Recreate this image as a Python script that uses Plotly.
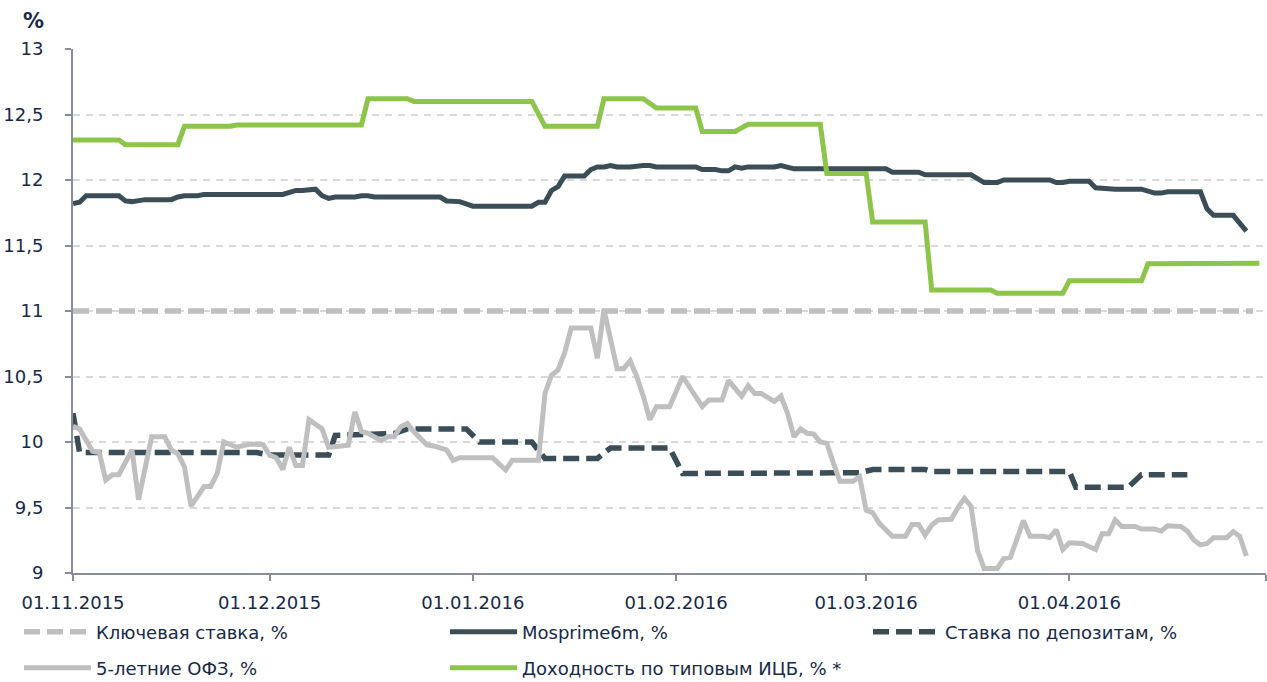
import plotly.graph_objects as go

# ---------------- data ----------------
key_dates = ["2015-11-01", "2016-04-29"]
key_vals = [11.0, 11.0]

mos_dates = ["2015-11-01", "2015-11-02", "2015-11-03", "2015-11-08", "2015-11-09", "2015-11-10",
             "2015-11-12", "2015-11-16", "2015-11-17", "2015-11-18", "2015-11-20", "2015-11-21",
             "2015-12-03", "2015-12-04", "2015-12-05", "2015-12-06", "2015-12-08", "2015-12-09",
             "2015-12-10", "2015-12-11", "2015-12-14", "2015-12-15", "2015-12-16", "2015-12-17",
             "2015-12-27", "2015-12-28", "2015-12-30", "2016-01-01", "2016-01-10", "2016-01-11",
             "2016-01-12", "2016-01-13", "2016-01-14", "2016-01-15", "2016-01-18", "2016-01-19",
             "2016-01-20", "2016-01-21", "2016-01-22", "2016-01-23", "2016-01-25", "2016-01-27",
             "2016-01-28", "2016-01-29", "2016-02-04", "2016-02-05", "2016-02-07", "2016-02-08",
             "2016-02-09", "2016-02-10", "2016-02-11", "2016-02-12", "2016-02-16", "2016-02-17",
             "2016-02-18", "2016-02-19", "2016-03-04", "2016-03-05", "2016-03-09", "2016-03-10",
             "2016-03-17", "2016-03-19", "2016-03-21", "2016-03-22", "2016-03-29", "2016-03-30",
             "2016-03-31", "2016-04-01", "2016-04-04", "2016-04-05", "2016-04-08", "2016-04-12",
             "2016-04-14", "2016-04-15", "2016-04-16", "2016-04-21", "2016-04-22", "2016-04-23",
             "2016-04-26", "2016-04-28"]
mos_vals = [11.82, 11.83, 11.88, 11.88, 11.84, 11.835,
            11.85, 11.85, 11.87, 11.88, 11.88, 11.89,
            11.89, 11.91, 11.92, 11.92, 11.93, 11.88,
            11.86, 11.87, 11.87, 11.88, 11.88, 11.87,
            11.87, 11.84, 11.835, 11.80, 11.80, 11.83,
            11.83, 11.92, 11.95, 12.03, 12.03, 12.08,
            12.10, 12.10, 12.11, 12.10, 12.10, 12.11,
            12.11, 12.10, 12.10, 12.08, 12.08, 12.07,
            12.07, 12.10, 12.09, 12.10, 12.10, 12.11,
            12.10, 12.085, 12.085, 12.06, 12.06, 12.04,
            12.04, 11.98, 11.98, 12.00, 12.00, 11.98,
            11.98, 11.99, 11.99, 11.94, 11.93, 11.93,
            11.90, 11.90, 11.91, 11.91, 11.78, 11.73,
            11.73, 11.61]

dep_dates = ["2015-11-01", "2015-11-02", "2015-11-29", "2015-12-01", "2015-12-10", "2015-12-11",
             "2015-12-20", "2015-12-22", "2015-12-31", "2016-01-02", "2016-01-10", "2016-01-12",
             "2016-01-20", "2016-01-22", "2016-01-31", "2016-02-02", "2016-02-29", "2016-03-02",
             "2016-03-10", "2016-03-11", "2016-04-01", "2016-04-02", "2016-04-10", "2016-04-12",
             "2016-04-19"]
dep_vals = [10.22, 9.92, 9.92, 9.90, 9.90, 10.05,
            10.065, 10.10, 10.10, 10.00, 10.00, 9.875,
            9.875, 9.955, 9.955, 9.76, 9.765, 9.79,
            9.79, 9.775, 9.775, 9.655, 9.655, 9.75,
            9.75]

ofz_dates = ["2015-11-01", "2015-11-02", "2015-11-04", "2015-11-05", "2015-11-06", "2015-11-07",
             "2015-11-08", "2015-11-10", "2015-11-11", "2015-11-13", "2015-11-15", "2015-11-16",
             "2015-11-17", "2015-11-18", "2015-11-19", "2015-11-21", "2015-11-22", "2015-11-23",
             "2015-11-24", "2015-11-26", "2015-11-28", "2015-11-30", "2015-12-01", "2015-12-02",
             "2015-12-03", "2015-12-04", "2015-12-05", "2015-12-06", "2015-12-07", "2015-12-09",
             "2015-12-10", "2015-12-13", "2015-12-14", "2015-12-15", "2015-12-16", "2015-12-18",
             "2015-12-19", "2015-12-20", "2015-12-21", "2015-12-22", "2015-12-23", "2015-12-25",
             "2015-12-26", "2015-12-28", "2015-12-29", "2015-12-30", "2016-01-04", "2016-01-06",
             "2016-01-07", "2016-01-11", "2016-01-12", "2016-01-13", "2016-01-14", "2016-01-15",
             "2016-01-16", "2016-01-19", "2016-01-20", "2016-01-21", "2016-01-23", "2016-01-24",
             "2016-01-25", "2016-01-26", "2016-01-27", "2016-01-28", "2016-01-29", "2016-01-31",
             "2016-02-02", "2016-02-03", "2016-02-05", "2016-02-06", "2016-02-08", "2016-02-09",
             "2016-02-11", "2016-02-12", "2016-02-13", "2016-02-14", "2016-02-16", "2016-02-17",
             "2016-02-18", "2016-02-19", "2016-02-20", "2016-02-21", "2016-02-22", "2016-02-23",
             "2016-02-24", "2016-02-25", "2016-02-26", "2016-02-28", "2016-02-29", "2016-03-01",
             "2016-03-02", "2016-03-03", "2016-03-04", "2016-03-05", "2016-03-07", "2016-03-08",
             "2016-03-09", "2016-03-10", "2016-03-11", "2016-03-12", "2016-03-14", "2016-03-15",
             "2016-03-16", "2016-03-17", "2016-03-18", "2016-03-19", "2016-03-21", "2016-03-22",
             "2016-03-23", "2016-03-24", "2016-03-25", "2016-03-26", "2016-03-28", "2016-03-29",
             "2016-03-30", "2016-03-31", "2016-04-01", "2016-04-03", "2016-04-05", "2016-04-06",
             "2016-04-07", "2016-04-08", "2016-04-09", "2016-04-11", "2016-04-12", "2016-04-14",
             "2016-04-15", "2016-04-16", "2016-04-18", "2016-04-19", "2016-04-20", "2016-04-21",
             "2016-04-22", "2016-04-23", "2016-04-25", "2016-04-26", "2016-04-27", "2016-04-28"]
ofz_vals = [10.12, 10.10, 9.93, 9.92, 9.71, 9.75,
            9.75, 9.94, 9.56, 10.04, 10.04, 9.94,
            9.91, 9.81, 9.51, 9.66, 9.66, 9.76,
            10.00, 9.96, 9.985, 9.98, 9.90, 9.88,
            9.79, 9.96, 9.82, 9.82, 10.17, 10.10,
            9.96, 9.975, 10.23, 10.08, 10.066, 10.01,
            10.04, 10.04, 10.117, 10.14, 10.08, 9.977,
            9.97, 9.94, 9.86, 9.88, 9.88, 9.786,
            9.86, 9.86, 10.37, 10.51, 10.55, 10.68,
            10.87, 10.87, 10.64, 11.01, 10.56, 10.56,
            10.62, 10.50, 10.35, 10.17, 10.27, 10.27,
            10.50, 10.42, 10.27, 10.32, 10.32, 10.47,
            10.35, 10.43, 10.37, 10.37, 10.31, 10.35,
            10.22, 10.04, 10.10, 10.066, 10.06, 10.00,
            9.99, 9.84, 9.70, 9.70, 9.735, 9.48,
            9.46, 9.38, 9.33, 9.28, 9.28, 9.37,
            9.37, 9.29, 9.366, 9.405, 9.41, 9.50,
            9.57, 9.51, 9.17, 9.035, 9.035, 9.11,
            9.12, 9.25, 9.40, 9.28, 9.28, 9.27,
            9.33, 9.18, 9.23, 9.225, 9.18, 9.30,
            9.30, 9.405, 9.355, 9.355, 9.335, 9.335,
            9.32, 9.36, 9.355, 9.32, 9.25, 9.215,
            9.225, 9.27, 9.27, 9.315, 9.28, 9.13]

icb_dates = ["2015-11-01", "2015-11-08", "2015-11-09", "2015-11-17", "2015-11-18", "2015-11-25",
             "2015-11-26", "2015-12-15", "2015-12-16", "2015-12-22", "2015-12-23", "2016-01-10",
             "2016-01-12", "2016-01-20", "2016-01-21", "2016-01-27", "2016-01-29", "2016-02-04",
             "2016-02-05", "2016-02-10", "2016-02-12", "2016-02-23", "2016-02-24", "2016-03-01",
             "2016-03-02", "2016-03-10", "2016-03-11", "2016-03-20", "2016-03-21", "2016-03-31",
             "2016-04-01", "2016-04-12", "2016-04-13", "2016-04-20", "2016-04-21", "2016-04-30"]
icb_vals = [12.305, 12.305, 12.27, 12.27, 12.41, 12.41,
            12.42, 12.42, 12.62, 12.62, 12.60, 12.60,
            12.41, 12.41, 12.62, 12.62, 12.55, 12.55,
            12.37, 12.37, 12.425, 12.425, 12.05, 12.05,
            11.68, 11.68, 11.16, 11.16, 11.135, 11.135,
            11.23, 11.23, 11.36, 11.36, 11.365, 11.365]

x_tick_vals = ["2015-11-01", "2015-12-01", "2016-01-01", "2016-02-01", "2016-03-01", "2016-04-01", "2016-05-01"]
x_tick_text = ["01.11.2015", "01.12.2015", "01.01.2016", "01.02.2016", "01.03.2016", "01.04.2016", ""]

names = ["Ключевая ставка, %", "Mosprime6m, %", "Ставка по депозитам, %",
         "5-летние ОФЗ, %", "Доходность по типовым ИЦБ, % *"]

# ---------------- styles ----------------
DARK = "#3b4e57"
GRAY = "#bfbfbf"
GREEN = "#8dc54b"
TEXT = "#17294a"
AXIS = "#8a8d99"
FONT = "DejaVu Sans"
W, H = 1267, 682

fig = go.Figure()
fig.add_trace(go.Scatter(x=key_dates, y=key_vals, mode="lines", name=names[0], legend="legend",
                         line=dict(color=GRAY, width=5.5, dash="16px,7px")))
fig.add_trace(go.Scatter(x=mos_dates, y=mos_vals, mode="lines", name=names[1], legend="legend2",
                         line=dict(color=DARK, width=5)))
fig.add_trace(go.Scatter(x=dep_dates, y=dep_vals, mode="lines", name=names[2], legend="legend3",
                         line=dict(color=DARK, width=5.5, dash="16px,7px")))
fig.add_trace(go.Scatter(x=ofz_dates, y=ofz_vals, mode="lines", name=names[3], legend="legend4",
                         line=dict(color=GRAY, width=5)))
fig.add_trace(go.Scatter(x=icb_dates, y=icb_vals, mode="lines", name=names[4], legend="legend5",
                         line=dict(color=GREEN, width=5)))


def leg(px, py):
    return dict(orientation="h", xref="container", yref="container",
                x=px / W, xanchor="left", y=1 - py / H, yanchor="middle",
                itemwidth=67, font=dict(family=FONT, size=18, color=TEXT),
                bgcolor="rgba(0,0,0,0)", borderwidth=0)


fig.update_layout(
    width=W, height=H,
    margin=dict(l=73, r=1, t=49, b=109, autoexpand=False),
    paper_bgcolor="white", plot_bgcolor="white",
    font=dict(family=FONT, size=18, color=TEXT),
    separators=", ",
    showlegend=True,
    legend=leg(19, 632),
    legend2=leg(445, 632),
    legend3=leg(868, 632),
    legend4=leg(19, 668),
    legend5=leg(445, 668),
    xaxis=dict(type="date", range=["2015-11-01", "2016-05-01"],
               tickmode="array", tickvals=x_tick_vals, ticktext=x_tick_text,
               showgrid=False, zeroline=False, showline=True, linecolor=AXIS, linewidth=2,
               ticks="outside", ticklen=6, tickwidth=1.5, tickcolor=AXIS,
               ticklabelstandoff=6,
               tickfont=dict(family=FONT, size=18, color=TEXT)),
    yaxis=dict(range=[9, 13], tick0=9, dtick=0.5,
               showgrid=True, gridcolor="#d9d9d9", gridwidth=1.5, griddash="7px,6px",
               zeroline=False, showline=True, linecolor=AXIS, linewidth=2,
               ticks="outside", ticklen=6, tickwidth=1.5, tickcolor=AXIS,
               ticklabelstandoff=18,
               tickfont=dict(family=FONT, size=18, color=TEXT)),
    annotations=[dict(text="<b>%</b>", xref="paper", yref="paper", x=-0.0335, y=1.054,
                      xanchor="center", yanchor="middle", showarrow=False,
                      font=dict(family=FONT, size=21, color=TEXT))],
)

fig.write_html("out.html", config={"displayModeBar": False},
               post_script="document.body.style.margin='0px';")
